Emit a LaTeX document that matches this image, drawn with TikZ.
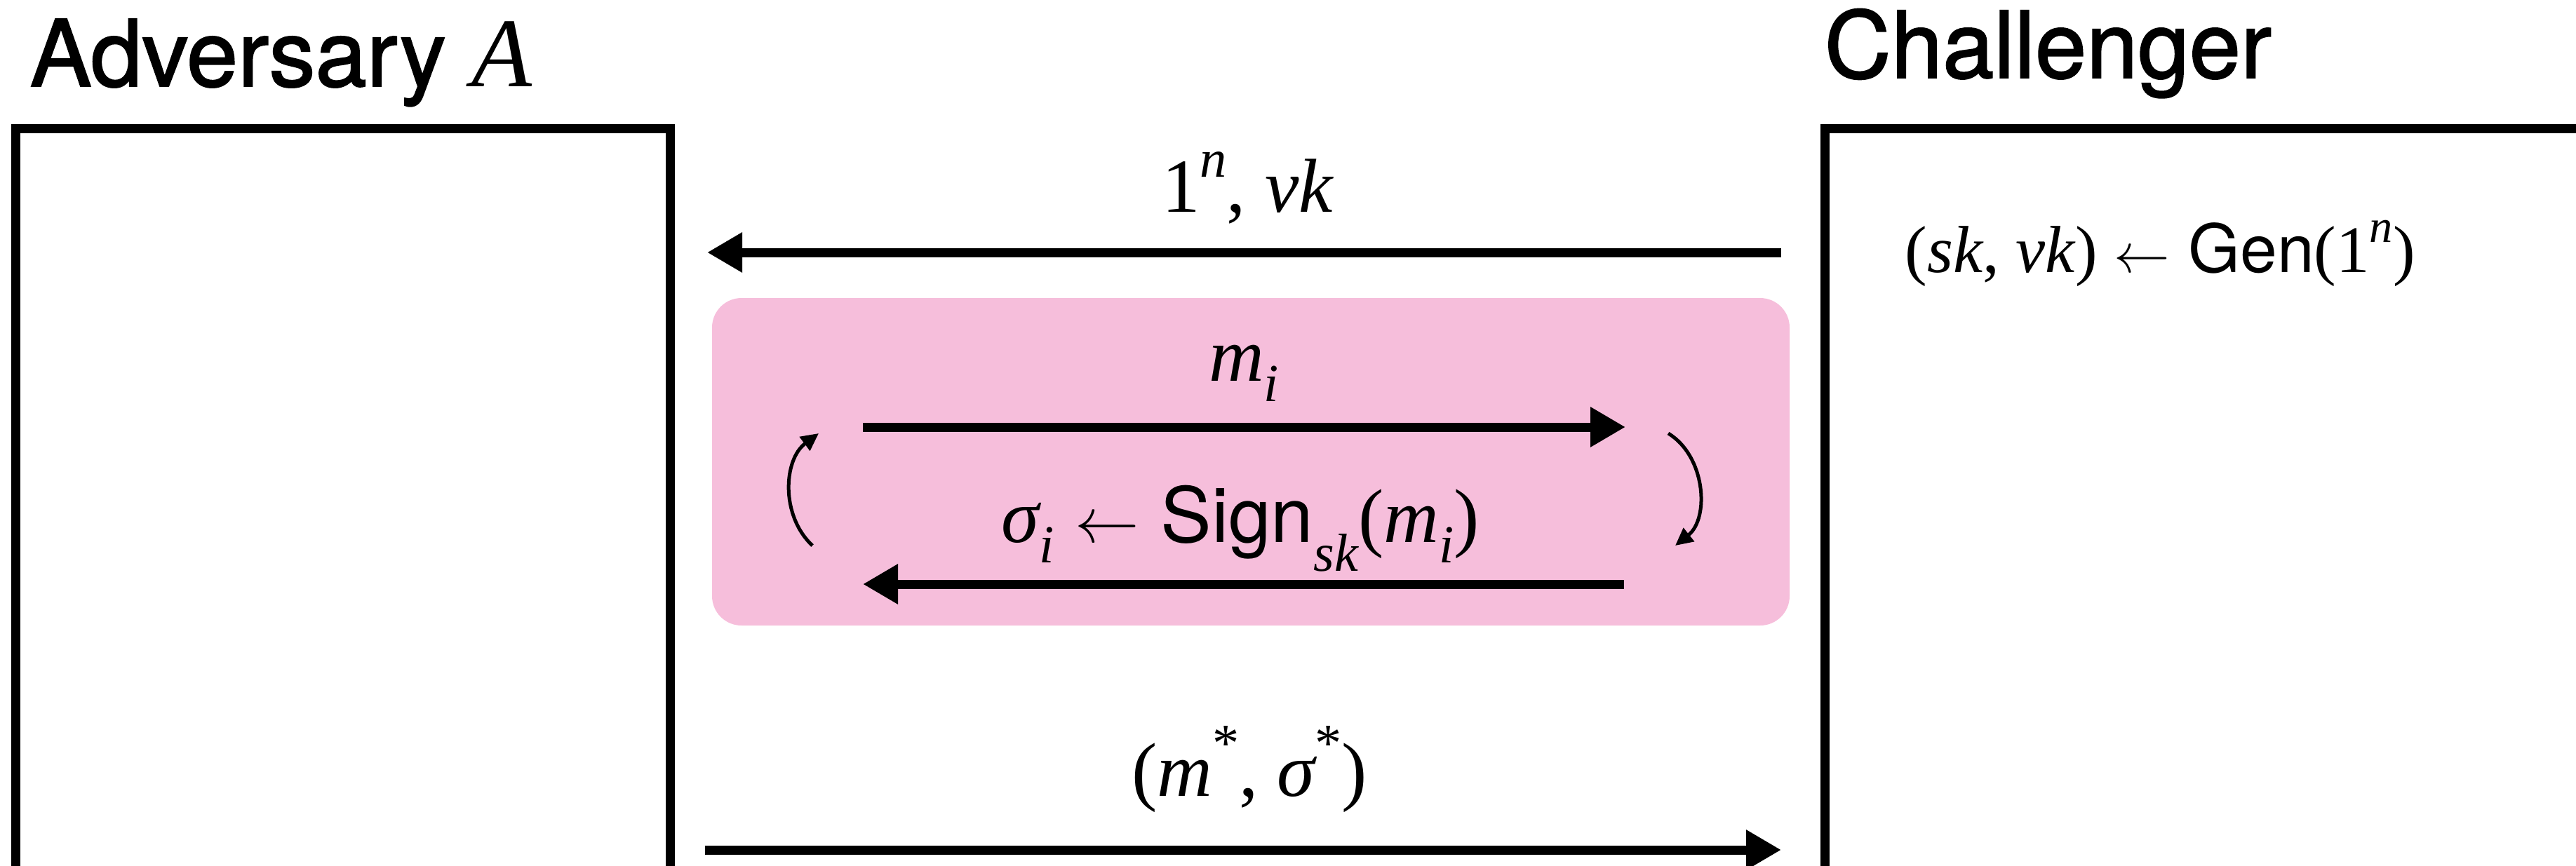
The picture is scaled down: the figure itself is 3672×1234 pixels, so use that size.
\documentclass[tikz,border=0pt]{standalone}
\usepackage{graphicx}
\usepackage{fontspec}
\setmainfont{TeX Gyre Heros}[BoldFont=TeX Gyre Heros, BoldFeatures={FakeBold=1.5}]
\newfontfamily\tms{Liberation Serif}
\usetikzlibrary{arrows.meta}
\definecolor{pinkbg}{RGB}{246,190,219}
\newcommand{\vi}[1]{{\tms\mdseries\itshape #1}}
\newcommand{\rmv}[1]{{\tms #1}}
\newcommand{\lo}[2][-0.27em]{\raisebox{#1}{\scalebox{0.7}{#2}}}
\newcommand{\hi}[1]{\raisebox{0.45em}{\scalebox{0.7}{#1}}}
\newcommand{\getsarrow}{\resizebox{0.84em}{!}{$\leftarrow$}}
\tikzset{
  frame/.style={draw, line width=1.3mm, anchor=north west, inner sep=0pt, outer sep=0pt, minimum height=130mm},
  bigarrow/.style={line width=1.3mm, -{Triangle[length=5mm,width=5.4mm]}},
  looparrow/.style={line width=0.5mm, -{Triangle[length=2.5mm,width=2.4mm]}},
  lbl/.style={anchor=base, inner sep=0pt, font=\fontsize{31}{31}\selectfont},
  title/.style={anchor=base west, inner sep=0pt, font=\fontsize{37.5}{37.5}\selectfont\bfseries},
}
\begin{document}
\begin{tikzpicture}[x=0.1mm, y=-0.1mm]
\useasboundingbox (0,0) rectangle (3672,1234);
\clip (0,0) rectangle (3672,1234);
% boxes
\node[frame, minimum width=93.3mm] (adv) at (22,183) {};
\node[frame, minimum width=120mm] (chal) at (2601.5,183) {};
% titles
\node[title] (advt) at (42,123) {Adversary {\fontsize{40}{40}\selectfont\vi{A}}};
\node[title] (chalt) at (2600,111) {Challenger};
% challenger content
\node[anchor=base west, inner sep=0pt, font=\fontsize{27}{27}\selectfont] (gen) at (2715,388)
  {\rmv{(}\vi{sk}\rmv{, }\vi{vk}\rmv{) }\getsarrow{} Gen\rmv{(1}\hi{\vi{n}}\rmv{)}};
% pink loop area
\node[fill=pinkbg, rounded corners=4.2mm, anchor=north west, minimum width=153.6mm, minimum height=46.7mm, inner sep=0pt, outer sep=0pt] (loop) at (1015,425) {};
% arrow 1
\coordinate (a1s) at (2539,360);
\coordinate (a1e) at (1008,360);
\draw[bigarrow] (a1s) -- (a1e);
\node[lbl] (l1) at (1778,302) {\rmv{1}\hi{\vi{n}}\rmv{, }\vi{vk}};
% m_i
\coordinate (a2s) at (1230,609);
\coordinate (a2e) at (2317,609);
\draw[bigarrow] (a2s) -- (a2e);
\node[lbl] (l2) at (1773,543) {\vi{m}\lo{\vi{i}}};
% sigma
\coordinate (a3s) at (2315,833);
\coordinate (a3e) at (1230,833);
\draw[bigarrow] (a3s) -- (a3e);
\node[lbl] (l3) at (1768,773) {\vi{σ}\lo{\vi{i}} \getsarrow{} Sign\lo[-0.38em]{\vi{sk}}\rmv{(}\vi{m}\lo{\vi{i}}\rmv{)}};
% final
\coordinate (a4s) at (1005,1212);
\coordinate (a4e) at (2539,1212);
\draw[bigarrow] (a4s) -- (a4e);
\node[lbl] (l4) at (1781,1135) {\rmv{(}\vi{m}\hi{\rmv{*}}\rmv{, }\vi{σ}\hi{\rmv{*}}\rmv{)}};
% loop arrows
\coordinate (c1s) at (1158,778);
\coordinate (c1e) at (1167,618);
\draw[looparrow] (c1s) to[bend left=50] (c1e);
\coordinate (c2s) at (2378,618);
\coordinate (c2e) at (2388,778);
\draw[looparrow] (c2s) to[bend left=55] (c2e);
\end{tikzpicture}
\end{document}
